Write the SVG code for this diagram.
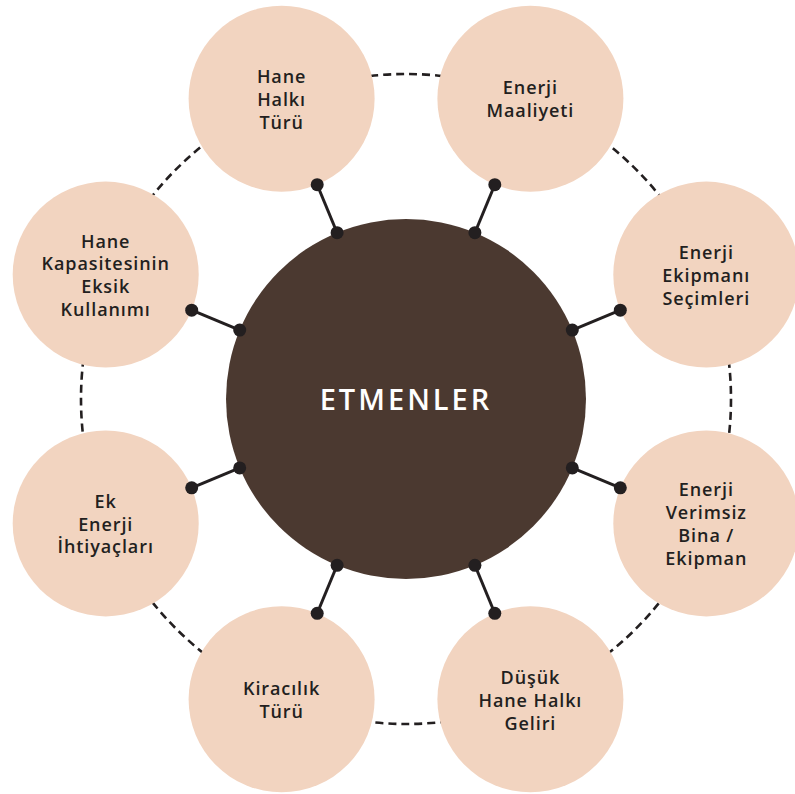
<svg xmlns="http://www.w3.org/2000/svg" width="795" height="794" viewBox="0 0 795 794">
<style>
.node{fill:#F2D4C0}
.lbl{font-family:"Open Sans","Liberation Sans",sans-serif;font-weight:600;font-size:18px;letter-spacing:0.9px;fill:#231F20;text-anchor:middle}
.ring{fill:none;stroke:#231F20;stroke-width:2.6;stroke-dasharray:8 5}
.link{stroke:#231F20;stroke-width:3;fill:none}
.dot{fill:#231F20}
</style>
<rect width="795" height="794" fill="#ffffff"/>
<circle class="ring" cx="406" cy="399" r="325"/>
<g id="center">
<circle cx="406" cy="399" r="180" fill="#4B3930"/>
<text x="406" y="410" font-family="'Open Sans','Liberation Sans',sans-serif" font-size="29" font-weight="600" fill="#ffffff" text-anchor="middle" letter-spacing="3">ETMENLER</text>
</g>
<g id="n1"><circle class="node" cx="281.6" cy="98.7" r="93"/>
<text class="lbl"><tspan x="281.6" y="83">Hane</tspan><tspan x="281.6" y="106">Halkı</tspan><tspan x="281.6" y="129">Türü</tspan></text></g>
<g id="n2"><circle class="node" cx="530.4" cy="98.7" r="93"/>
<text class="lbl"><tspan x="530.4" y="94">Enerji</tspan><tspan x="530.4" y="117">Maaliyeti</tspan></text></g>
<g id="n3"><circle class="node" cx="706.3" cy="274.6" r="93"/>
<text class="lbl"><tspan x="706.3" y="259">Enerji</tspan><tspan x="706.3" y="282">Ekipmanı</tspan><tspan x="706.3" y="305">Seçimleri</tspan></text></g>
<g id="n4"><circle class="node" cx="706.3" cy="523.4" r="93"/>
<text class="lbl"><tspan x="706.3" y="496">Enerji</tspan><tspan x="706.3" y="519">Verimsiz</tspan><tspan x="706.3" y="542">Bina /</tspan><tspan x="706.3" y="565">Ekipman</tspan></text></g>
<g id="n5"><circle class="node" cx="530.4" cy="699.3" r="93"/>
<text class="lbl"><tspan x="530.4" y="683.5">Düşük</tspan><tspan x="530.4" y="706.5">Hane Halkı</tspan><tspan x="530.4" y="729.5">Geliri</tspan></text></g>
<g id="n6"><circle class="node" cx="281.6" cy="699.3" r="93"/>
<text class="lbl"><tspan x="281.6" y="694.5">Kiracılık</tspan><tspan x="281.6" y="717.5">Türü</tspan></text></g>
<g id="n7"><circle class="node" cx="105.7" cy="523.4" r="93"/>
<text class="lbl"><tspan x="105.7" y="507.5">Ek</tspan><tspan x="105.7" y="530.5">Enerji</tspan><tspan x="105.7" y="553">İhtiyaçları</tspan></text></g>
<g id="n8"><circle class="node" cx="105.7" cy="274.6" r="93"/>
<text class="lbl"><tspan x="105.7" y="247.5">Hane</tspan><tspan x="105.7" y="270.3">Kapasitesinin</tspan><tspan x="105.7" y="293">Eksik</tspan><tspan x="105.7" y="316">Kullanımı</tspan></text></g>
<g id="connectors">
<line class="link" x1="337.1" y1="232.7" x2="317.2" y2="184.7"/>
<line class="link" x1="474.9" y1="232.7" x2="494.8" y2="184.7"/>
<line class="link" x1="572.3" y1="330.1" x2="620.3" y2="310.2"/>
<line class="link" x1="572.3" y1="467.9" x2="620.3" y2="487.8"/>
<line class="link" x1="474.9" y1="565.3" x2="494.8" y2="613.3"/>
<line class="link" x1="337.1" y1="565.3" x2="317.2" y2="613.3"/>
<line class="link" x1="239.7" y1="467.9" x2="191.7" y2="487.8"/>
<line class="link" x1="239.7" y1="330.1" x2="191.7" y2="310.2"/>
<circle class="dot" cx="337.1" cy="232.7" r="6.5"/><circle class="dot" cx="317.2" cy="184.7" r="6.5"/>
<circle class="dot" cx="474.9" cy="232.7" r="6.5"/><circle class="dot" cx="494.8" cy="184.7" r="6.5"/>
<circle class="dot" cx="572.3" cy="330.1" r="6.5"/><circle class="dot" cx="620.3" cy="310.2" r="6.5"/>
<circle class="dot" cx="572.3" cy="467.9" r="6.5"/><circle class="dot" cx="620.3" cy="487.8" r="6.5"/>
<circle class="dot" cx="474.9" cy="565.3" r="6.5"/><circle class="dot" cx="494.8" cy="613.3" r="6.5"/>
<circle class="dot" cx="337.1" cy="565.3" r="6.5"/><circle class="dot" cx="317.2" cy="613.3" r="6.5"/>
<circle class="dot" cx="239.7" cy="467.9" r="6.5"/><circle class="dot" cx="191.7" cy="487.8" r="6.5"/>
<circle class="dot" cx="239.7" cy="330.1" r="6.5"/><circle class="dot" cx="191.7" cy="310.2" r="6.5"/>
</g>
</svg>
